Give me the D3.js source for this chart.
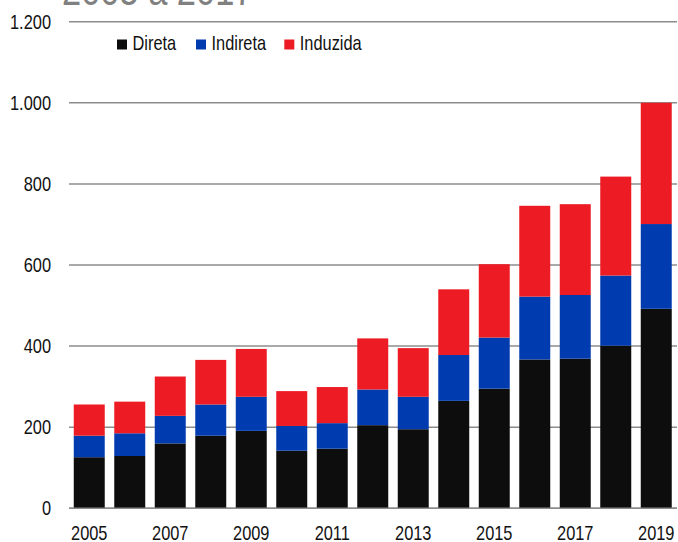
<!DOCTYPE html>
<html>
<head>
<meta charset="utf-8">
<script src="https://cdn.jsdelivr.net/npm/d3@7"></script>
<style>
  html, body { margin: 0; padding: 0; background: #fff; }
  svg { display: block; }
  text { font-family: "Liberation Sans", Arial, sans-serif; }
</style>
</head>
<body>
<svg id="chart" width="678" height="542"></svg>
<script>
// Anos e componentes (direta, indireta, induzida)
const years = ["2005","2006","2007","2008","2009","2010","2011","2012","2013","2014","2015","2016","2017","2018","2019"];
const direta   = [126, 129, 160, 179, 191, 142, 147, 205, 195, 265, 295, 367, 369, 401, 492];
const indireta = [ 53,  56,  68,  77,  84,  61,  63,  88,  80, 113, 126, 155, 157, 173, 209];
const induzida = [ 77,  78,  97, 110, 118,  86,  89, 126, 120, 162, 181, 224, 224, 244, 299];
const seriesKeys = ["Direta", "Indireta", "Induzida"];
const seriesColors = ["#0d0d0d", "#003bb0", "#ed1c24"];
const yTicks = [0, 200, 400, 600, 800, 1000, 1200];
const xTickYears = ["2005","2007","2009","2011","2013","2015","2017","2019"];
const titleText = "2005 a 2017";

// Fonte condensada: Liberation Sans comprimida horizontalmente
const FONT = '"Liberation Sans", Arial, sans-serif';
const NARROW = 0.82;

const rows = years.map((y, i) => ({ year: y, Direta: direta[i], Indireta: indireta[i], Induzida: induzida[i] }));
const stacked = d3.stack().keys(seriesKeys)(rows);

const svg = d3.select("#chart");

const x = d3.scaleBand().domain(years).range([69, 676.5]).paddingInner(0.235).paddingOuter(0.1175);
const y = d3.scaleLinear().domain([0, 1200]).range([508.3, 21.7]);
const fmt = v => d3.format(",")(v).replace(/,/g, ".");

// Título (parcialmente fora da área visível)
svg.append("g")
  .attr("transform", `translate(62,4.5) scale(${NARROW},1)`)
  .append("text")
  .attr("font-size", 42)
  .attr("font-family", FONT)
  .attr("fill", "#808080")
  .text(titleText);

// Grade horizontal
svg.append("g")
  .selectAll("line")
  .data(yTicks)
  .join("line")
  .attr("x1", 69).attr("x2", 677)
  .attr("y1", d => y(d)).attr("y2", d => y(d))
  .attr("stroke", "#8c8c8c")
  .attr("stroke-width", 1.5);

// Eixo Y
const yAxis = svg.append("g")
  .attr("transform", "translate(51,0)")
  .call(d3.axisLeft(y).tickValues(yTicks).tickFormat(fmt).tickSize(0).tickPadding(0));
yAxis.select(".domain").remove();
yAxis.selectAll("text")
  .attr("font-size", 20).attr("fill", "#111").attr("font-family", FONT)
  .attr("transform", `scale(${NARROW},1)`);

// Barras empilhadas
svg.append("g")
  .selectAll("g")
  .data(stacked)
  .join("g")
  .attr("fill", (d, i) => seriesColors[i])
  .selectAll("rect")
  .data(d => d)
  .join("rect")
  .attr("x", d => x(d.data.year))
  .attr("width", x.bandwidth())
  .attr("y", d => y(d[1]))
  .attr("height", d => y(d[0]) - y(d[1]));

// Linha de base
svg.append("line")
  .attr("x1", 69).attr("x2", 677)
  .attr("y1", y(0)).attr("y2", y(0))
  .attr("stroke", "#8c8c8c").attr("stroke-width", 1.5);

// Eixo X
const xAxis = svg.append("g")
  .attr("transform", `translate(0,${y(0)})`)
  .call(d3.axisBottom(x).tickValues(xTickYears).tickSize(0).tickPadding(0));
xAxis.select(".domain").remove();
xAxis.selectAll("text")
  .attr("dy", null)
  .attr("y", 31.5)
  .attr("font-size", 20).attr("fill", "#111")
  .attr("font-family", FONT)
  .attr("transform", `scale(${NARROW},1)`);

// Legenda
const legendX = [117, 196, 284.3];
const legend = svg.append("g")
  .selectAll("g")
  .data(seriesKeys)
  .join("g")
  .attr("transform", (d, i) => `translate(${legendX[i]},39.5)`);
legend.append("rect")
  .attr("width", 10).attr("height", 10)
  .attr("fill", (d, i) => seriesColors[i]);
legend.append("g")
  .attr("transform", `translate(15.5,10) scale(${NARROW},1)`)
  .append("text")
  .attr("font-size", 20).attr("fill", "#111")
  .attr("font-family", FONT)
  .text(d => d);
</script>
</body>
</html>
